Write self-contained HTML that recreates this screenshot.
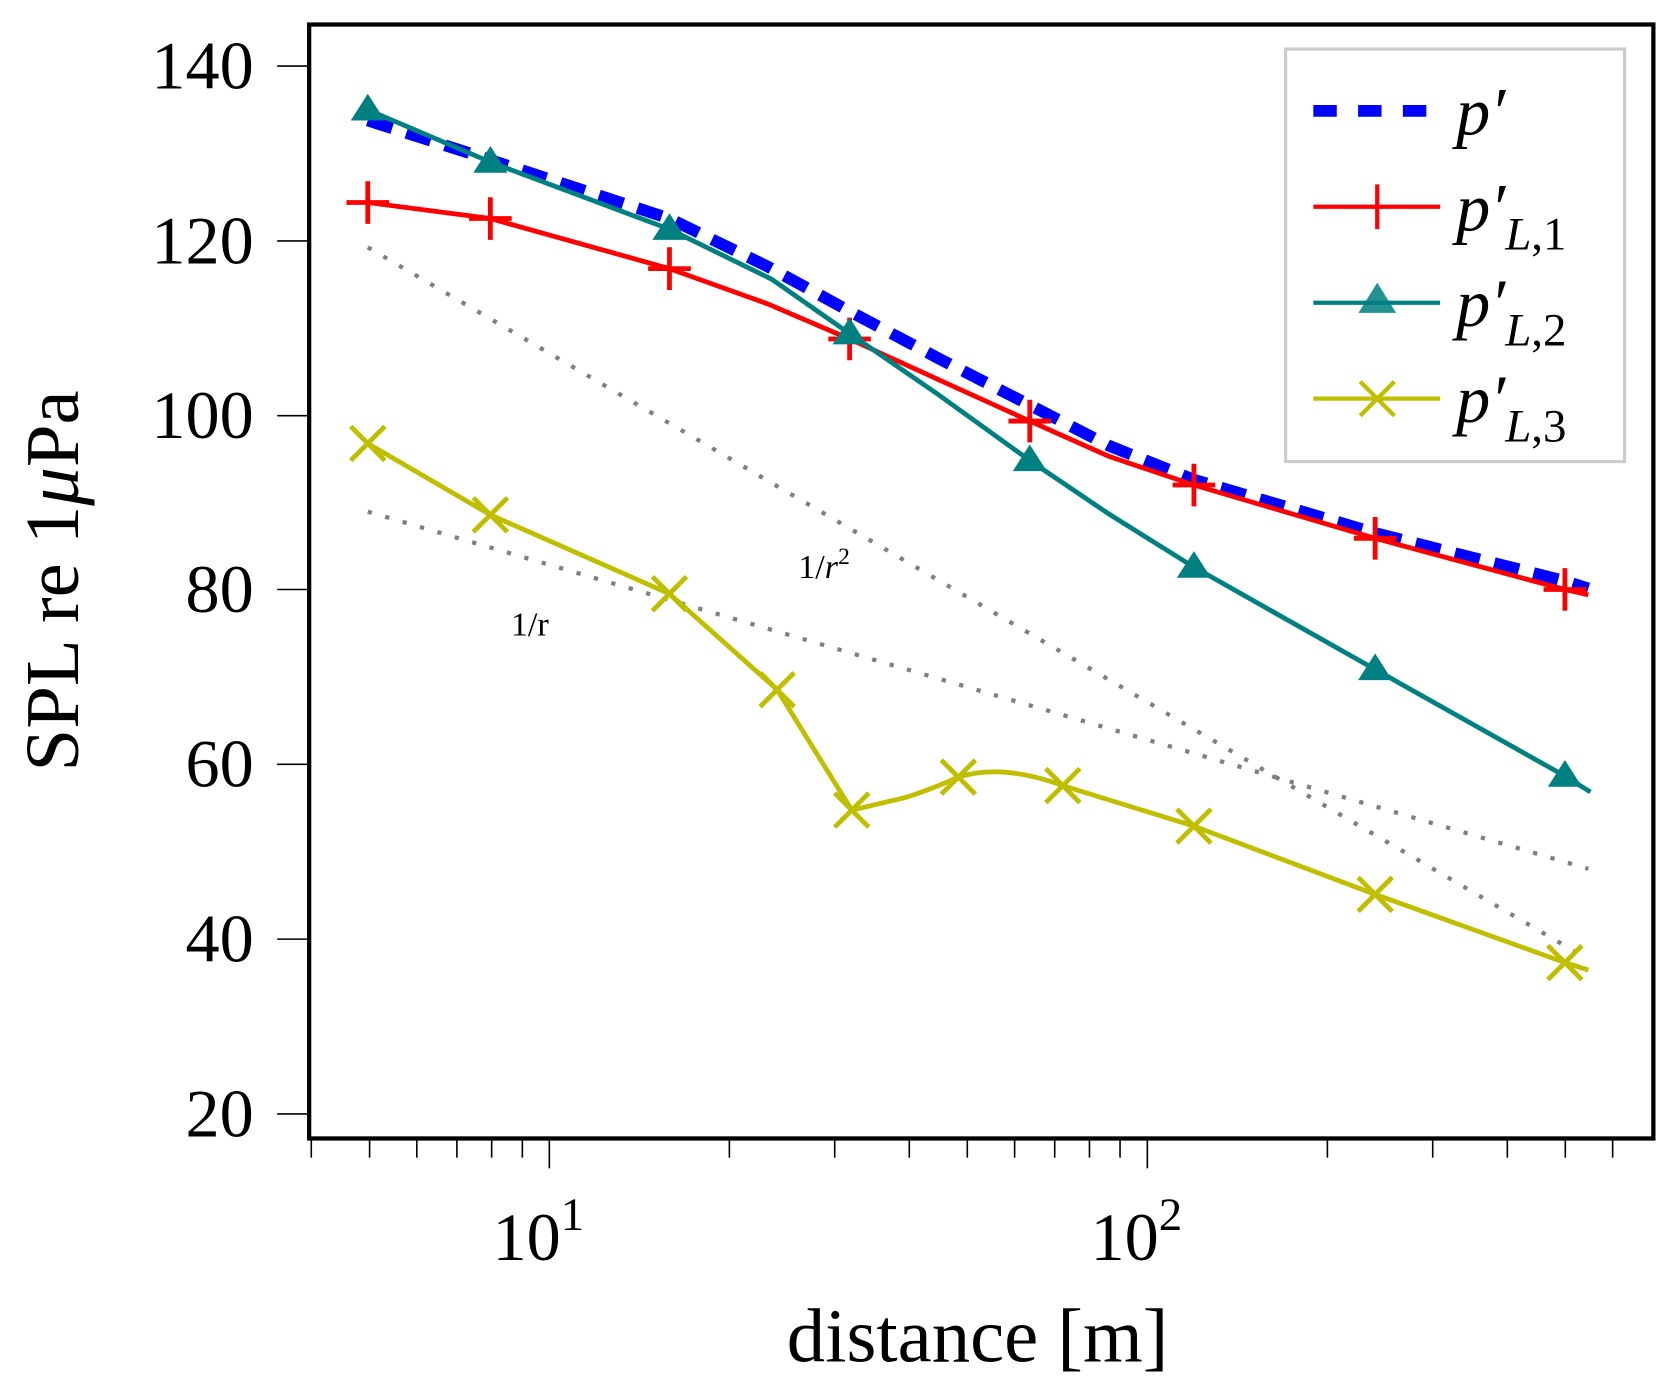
<!DOCTYPE html>
<html><head><meta charset="utf-8"><style>html,body{margin:0;padding:0;background:#fff}svg{display:block}</style></head>
<body>
<svg width="1673" height="1399" viewBox="0 0 1569.4 1312.4" xmlns="http://www.w3.org/2000/svg" font-family="'Liberation Serif', serif">
<rect x="0" y="0" width="1569.4" height="1312.4" fill="#fff"/>
<g stroke="#000" stroke-width="1.5">
<line x1="260" y1="1045" x2="290" y2="1045"/><line x1="260" y1="881" x2="290" y2="881"/>
<line x1="260" y1="717" x2="290" y2="717"/><line x1="260" y1="553" x2="290" y2="553"/>
<line x1="260" y1="390" x2="290" y2="390"/><line x1="260" y1="226" x2="290" y2="226"/>
<line x1="260" y1="62" x2="290" y2="62"/>
</g>
<g font-size="64" text-anchor="end">
<text x="238" y="1066">20</text><text x="238" y="902">40</text><text x="238" y="738">60</text>
<text x="238" y="574">80</text><text x="238" y="411">100</text><text x="238" y="247">120</text><text x="238" y="83">140</text>
</g>
<g stroke="#000" stroke-width="1.5">
<line x1="292" y1="1068" x2="292" y2="1086"/><line x1="346.7" y1="1068" x2="346.7" y2="1086"/>
<line x1="391" y1="1068" x2="391" y2="1086"/><line x1="428.6" y1="1068" x2="428.6" y2="1086"/>
<line x1="461.2" y1="1068" x2="461.2" y2="1086"/><line x1="490" y1="1068" x2="490" y2="1086"/>
<line x1="515.3" y1="1068" x2="515.3" y2="1096"/>
<line x1="684.2" y1="1068" x2="684.2" y2="1086"/><line x1="783" y1="1068" x2="783" y2="1086"/>
<line x1="853" y1="1068" x2="853" y2="1086"/><line x1="907.4" y1="1068" x2="907.4" y2="1086"/>
<line x1="951.8" y1="1068" x2="951.8" y2="1086"/><line x1="989.4" y1="1068" x2="989.4" y2="1086"/>
<line x1="1022" y1="1068" x2="1022" y2="1086"/><line x1="1050.7" y1="1068" x2="1050.7" y2="1086"/>
<line x1="1076.3" y1="1068" x2="1076.3" y2="1096"/>
<line x1="1245.2" y1="1068" x2="1245.2" y2="1086"/><line x1="1344" y1="1068" x2="1344" y2="1086"/>
<line x1="1414" y1="1068" x2="1414" y2="1086"/><line x1="1468.4" y1="1068" x2="1468.4" y2="1086"/>
<line x1="1512.8" y1="1068" x2="1512.8" y2="1086"/>
</g>
<g font-size="64" text-anchor="middle">
<text x="505" y="1182">10<tspan font-size="44" dy="-28">1</tspan></text>
<text x="1066" y="1182">10<tspan font-size="44" dy="-28">2</tspan></text>
</g>
<text x="917" y="1277" font-size="72" text-anchor="middle">distance [m]</text>
<text transform="translate(73,545) rotate(-90)" font-size="72" text-anchor="middle">SPL re 1<tspan font-style="italic">μ</tspan>Pa</text>
<g stroke="#808080" stroke-width="4" stroke-dasharray="4 13" fill="none">
<line x1="345" y1="480" x2="1490" y2="815"/>
<line x1="345" y1="232" x2="1490" y2="900"/>
</g>
<text x="497" y="596" font-size="32" text-anchor="middle">1/r</text>
<text x="773" y="542" font-size="32" text-anchor="middle">1/<tspan font-style="italic">r</tspan><tspan font-size="22" dy="-13">2</tspan></text>
<polyline fill="none" stroke="#0000ff" stroke-width="11" stroke-dasharray="24 14" points="345,113 460,150 628,205 720,250 797,292 880,336 966,380 1040,418 1120,450 1290,500 1468,545 1490,552"/>
<polyline fill="none" stroke="#ff0000" stroke-width="4.5" points="345,190 460,205 628,252 720,285 797,318 880,356 966,395 1040,428 1120,455 1290,505 1468,553 1490,558"/>
<g stroke="#ff0000" stroke-width="4.5">
<path d="M325 190h40M345 170v40"/><path d="M440 205h40M460 185v40"/><path d="M608 252h40M628 232v40"/>
<path d="M777 318h40M797 298v40"/><path d="M946 395h40M966 375v40"/><path d="M1100 455h40M1120 435v40"/>
<path d="M1270 505h40M1290 485v40"/><path d="M1448 553h40M1468 533v40"/>
</g>
<polyline fill="none" stroke="#008080" stroke-width="4.5" points="345,103 460,152 628,215 724,262 797,313 880,370 966,432 1040,482 1120,532 1290,628 1468,728 1492,743"/>
<g fill="#008080">
<path d="M345 88 L361 113 L329 113Z"/><path d="M460 137 L476 162 L444 162Z"/><path d="M628 200 L644 225 L612 225Z"/>
<path d="M797 298 L813 323 L781 323Z"/><path d="M966 417 L982 442 L950 442Z"/><path d="M1120 517 L1136 542 L1104 542Z"/>
<path d="M1290 613 L1306 638 L1274 638Z"/><path d="M1468 713 L1484 738 L1452 738Z"/>
</g>
<path fill="none" stroke="#bfbf00" stroke-width="4.5" d="M345 416 L460 483 L628 557 L729 647 L799 760 L850 748 Q875 740 899 729 Q940 716 997 737 L1120 775 L1290 839 L1468 903 L1490 910"/>
<g stroke="#bfbf00" stroke-width="4.5">
<path d="M329 400l32 32M361 400l-32 32"/><path d="M444 467l32 32M476 467l-32 32"/><path d="M612 541l32 32M644 541l-32 32"/>
<path d="M713 631l32 32M745 631l-32 32"/><path d="M783 744l32 32M815 744l-32 32"/><path d="M883 713l32 32M915 713l-32 32"/>
<path d="M981 721l32 32M1013 721l-32 32"/><path d="M1104 759l32 32M1136 759l-32 32"/><path d="M1274 823l32 32M1306 823l-32 32"/>
<path d="M1452 887l32 32M1484 887l-32 32"/>
</g>
<rect x="290" y="23" width="1261" height="1045" fill="none" stroke="#000" stroke-width="4"/>
<rect x="1206" y="46" width="318" height="387" fill="#fff" stroke="#cccccc" stroke-width="3"/>
<line x1="1232" y1="104" x2="1351" y2="104" stroke="#0000ff" stroke-width="11" stroke-dasharray="22 20"/>
<line x1="1232" y1="194" x2="1351" y2="194" stroke="#ff0000" stroke-width="4"/>
<line x1="1292" y1="173" x2="1292" y2="215" stroke="#ff0000" stroke-width="4"/>
<line x1="1232" y1="284" x2="1351" y2="284" stroke="#008080" stroke-width="4"/>
<path d="M1292 268 L1307 292 L1277 292Z" fill="#008080" opacity="0.85" stroke="#008080" stroke-width="3"/>
<line x1="1232" y1="374" x2="1351" y2="374" stroke="#bfbf00" stroke-width="4"/>
<path d="M1276 358l32 32M1308 358l-32 32" stroke="#bfbf00" stroke-width="4"/>
<g font-size="64" font-style="italic">
<text x="1366" y="126">p′</text>
<text x="1366" y="216">p′<tspan font-size="44" dy="18">L</tspan><tspan font-size="44" font-style="normal">,1</tspan></text>
<text x="1366" y="306">p′<tspan font-size="44" dy="18">L</tspan><tspan font-size="44" font-style="normal">,2</tspan></text>
<text x="1366" y="396">p′<tspan font-size="44" dy="18">L</tspan><tspan font-size="44" font-style="normal">,3</tspan></text>
</g>
</svg>
</body></html>
